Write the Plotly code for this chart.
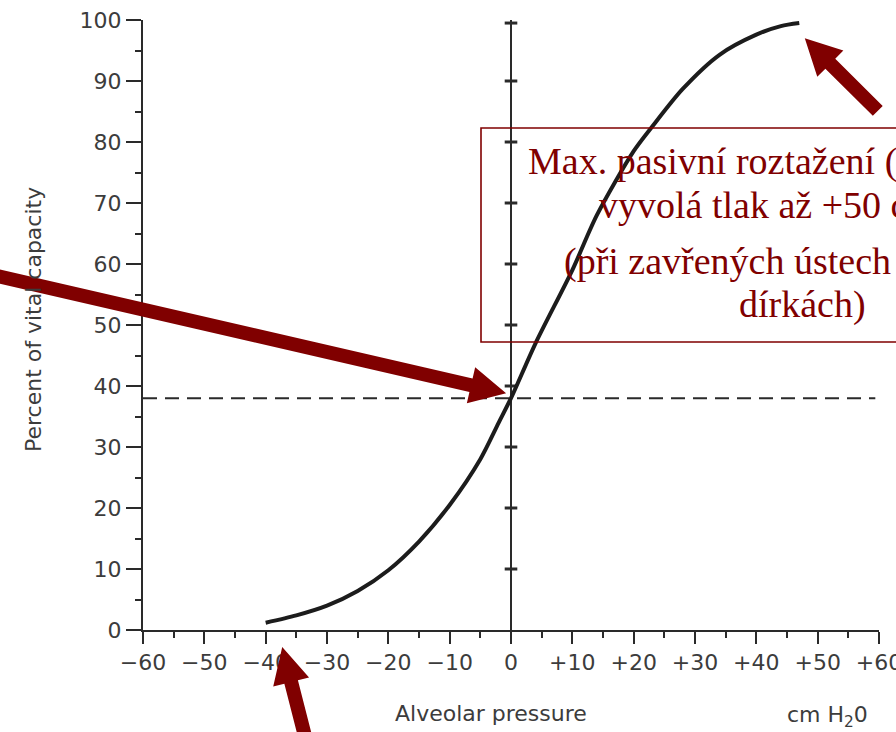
import math
import plotly.graph_objects as go

# ---------------- data ----------------
pressure = [-40, -35, -30, -25, -20, -15, -10, -5, -2, 0, 4, 10, 14, 20, 23, 28, 34, 40, 44, 47]
vital_pct = [1.2, 2.4, 4.0, 6.4, 9.8, 14.5, 20.5, 28, 34, 38, 47, 59, 68, 78.5, 82.5, 88.7, 94.3, 97.6, 99.0, 99.5]
rest_level = 38          # dashed horizontal reference (percent of VC)
x_ticks = [-60, -50, -40, -30, -20, -10, 0, 10, 20, 30, 40, 50, 60]
x_ticktext = ["\u221260", "\u221250", "\u221240", "\u221230", "\u221220", "\u221210", "0",
              "+10", "+20", "+30", "+40", "+50", "+60"]
y_ticks = [0, 10, 20, 30, 40, 50, 60, 70, 80, 90, 100]
cross_levels = [10, 20, 30, 40, 50, 60, 70, 80, 90, 99.5]

box_lines = ["Max. pasivní roztažení (hrudníku)",
             "vyvolá tlak až +50 cm H\u2082O",
             "(při zavřených ústech a nosních",
             "dírkách)"]

# arrows: (tip_pressure, tip_pct, tail_pressure, tail_pct)
arrows = [(47.9, 97.0, 59.8, 85.1),
          (-0.8, 38.8, -86.6, 58.7),
          (-37.3, -2.8, -32.6, -21.3)]

# ---------------- geometry ----------------
W, H = 896, 732
ML, MR, MT, MB = 143, 17, 20, 102
PW, PH = W - ML - MR, H - MT - MB
XR, YR = (-60, 60), (0, 100)

def to_px(p, v):
    return (ML + (p - XR[0]) / (XR[1] - XR[0]) * PW,
            MT + PH - (v - YR[0]) / (YR[1] - YR[0]) * PH)

def px_to_paper(x, y):
    return ((x - ML) / PW, (H - MB - y) / PH)

INK = "#2a2a2a"
TXT = "#3c3c3c"
RED = "#800000"

fig = go.Figure()

# dashed reference line
fig.add_trace(go.Scatter(x=[XR[0], XR[1] - 0.6], y=[rest_level, rest_level], mode="lines",
                         line=dict(color=INK, width=2, dash="14px,8px"),
                         hoverinfo="skip", showlegend=False, cliponaxis=False))
# cross ticks on the zero line
fig.add_trace(go.Scatter(x=[0] * len(cross_levels), y=cross_levels, mode="markers",
                         marker=dict(symbol="line-ew", size=9, line=dict(color=INK, width=3)),
                         hoverinfo="skip", showlegend=False, cliponaxis=False))
# main curve
fig.add_trace(go.Scatter(x=pressure, y=vital_pct, mode="lines",
                         line=dict(color="#1c1c1c", width=4, shape="spline", smoothing=0.8),
                         hoverinfo="skip", showlegend=False, cliponaxis=False))

axis_common = dict(showgrid=False, showline=True, linecolor=INK, linewidth=2,
                   ticks="outside", tickcolor=INK, tickwidth=2, ticklabeloverflow="allow",
                   automargin=False,
                   tickfont=dict(family="DejaVu Sans", size=22, color=TXT))
fig.update_xaxes(range=list(XR), tickvals=x_ticks, ticktext=x_ticktext, ticklen=12,
                 zeroline=True, zerolinecolor=INK, zerolinewidth=2,
                 minor=dict(dtick=5, ticklen=6, tickcolor=INK, tickwidth=2, ticks="outside"),
                 **axis_common)
fig.update_yaxes(range=list(YR), tickvals=y_ticks, ticklen=15, zeroline=False,
                 minor=dict(dtick=5, ticklen=6, tickcolor=INK, tickwidth=2, ticks="outside"),
                 **axis_common)

shapes = []
annotations = []

# arrows as filled polygons
SHAFT, HEADW, HEADL = 14, 37, 36
for tp, tv, sp, sv in arrows:
    tx, ty = to_px(tp, tv)
    sx, sy = to_px(sp, sv)
    L = math.hypot(tx - sx, ty - sy)
    ux, uy = (tx - sx) / L, (ty - sy) / L
    nx, ny = -uy, ux
    bx, by = tx - ux * HEADL, ty - uy * HEADL
    pts = [
        (sx + nx * SHAFT / 2, sy + ny * SHAFT / 2),
        (bx + nx * SHAFT / 2, by + ny * SHAFT / 2),
        (bx + nx * HEADW / 2, by + ny * HEADW / 2),
        (tx, ty),
        (bx - nx * HEADW / 2, by - ny * HEADW / 2),
        (bx - nx * SHAFT / 2, by - ny * SHAFT / 2),
        (sx - nx * SHAFT / 2, sy - ny * SHAFT / 2),
    ]
    pp = [px_to_paper(x, y) for x, y in pts]
    path = "M " + " L ".join(f"{x:.5f},{y:.5f}" for x, y in pp) + " Z"
    shapes.append(dict(type="path", xref="paper", yref="paper", path=path,
                       fillcolor=RED, line=dict(width=0), layer="above"))

# text box
bx0, by0 = px_to_paper(481, 342)
bx1, by1 = px_to_paper(1117, 128)
shapes.append(dict(type="rect", xref="paper", yref="paper", x0=bx0, y0=by0, x1=bx1, y1=by1,
                   line=dict(color=RED, width=1.6), fillcolor="rgba(0,0,0,0)", layer="above"))

line_pos = [(526, 161), (597, 205), (562, 261), (737, 304)]
for txt, (lx, ly) in zip(box_lines, line_pos):
    ax_, ay_ = px_to_paper(lx, ly)
    annotations.append(dict(text=txt, xref="paper", yref="paper", x=ax_, y=ay_,
                            xanchor="left", yanchor="middle", showarrow=False,
                            font=dict(family="Liberation Serif, Times New Roman, serif",
                                      size=38, color=RED)))

# axis titles as annotations
tx_, ty_ = px_to_paper(33, 320)
annotations.append(dict(text="Percent of vital capacity", xref="paper", yref="paper",
                        x=tx_, y=ty_, xanchor="center", yanchor="middle", textangle=-90,
                        showarrow=False, font=dict(family="DejaVu Sans", size=22, color=TXT)))
tx_, ty_ = px_to_paper(491, 713)
annotations.append(dict(text="Alveolar pressure", xref="paper", yref="paper",
                        x=tx_, y=ty_, xanchor="center", yanchor="middle",
                        showarrow=False, font=dict(family="DejaVu Sans", size=22, color=TXT)))
tx_, ty_ = px_to_paper(827, 716)
annotations.append(dict(text="cm H<sub>2</sub>0", xref="paper", yref="paper",
                        x=tx_, y=ty_, xanchor="center", yanchor="middle",
                        showarrow=False, font=dict(family="DejaVu Sans", size=22, color=TXT)))

fig.update_layout(width=W, height=H, margin=dict(l=ML, r=MR, t=MT, b=MB, pad=0, autoexpand=False),
                  paper_bgcolor="white", plot_bgcolor="white",
                  shapes=shapes, annotations=annotations, showlegend=False)

fig.write_html("out.html", config={"displayModeBar": False},
               post_script="document.body.style.margin='0px';"
                           "document.body.style.overflow='hidden';")
